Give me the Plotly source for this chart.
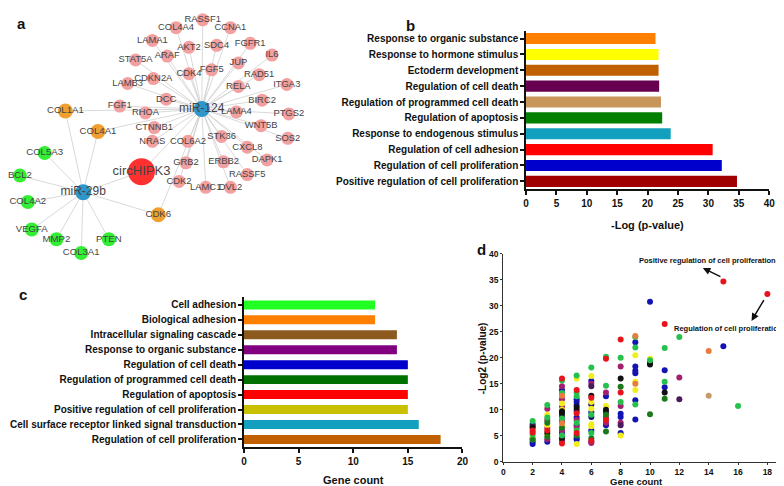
import plotly.graph_objects as go

W, H = 784, 486
FONT = "Liberation Sans, Arial, sans-serif"

# ---------------- Panel a: network ----------------
hub_names = ["miR-124", "miR-29b"]
hub_x = [193, 73]
hub_y = [98, 183]
circ_name = "circHIPK3"
circ_x, circ_y = 132, 162

pink_names = ["RASSF1", "COL4A4", "CCNA1", "LAMA1", "AKT2", "SDC4", "FGFR1", "IL6", "STAT5A", "ARAF",
              "JUP", "FGF5", "CDK4", "RAD51", "CDKN2A", "LAMB3", "RELA", "ITGA3", "DCC", "BIRC2",
              "FGF1", "RHOA", "LAMA4", "PTGS2", "CTNNB1", "WNT5B", "STK36", "SOS2", "NRAS", "COL6A2",
              "CXCL8", "DAPK1", "GRB2", "ERBB2", "RASSF5", "CDK2", "LAMC1", "DVL2"]
pink_x = [194, 167, 222, 143, 180, 208, 242, 264, 126, 158,
          230, 203, 180, 251, 144, 118, 230, 279, 157, 254,
          110, 136, 228, 281, 145, 253, 213, 280, 143, 179,
          239, 259, 177, 215, 239, 170, 197, 222]
pink_y = [7, 15, 15, 28, 35, 33, 31, 43, 48, 44,
          51, 58, 62, 63, 67, 72, 75, 73, 88, 89,
          95, 102, 101, 103, 117, 115, 126, 128, 131, 131,
          137, 150, 153, 152, 165, 172, 178, 178]
orange_names = ["COL1A1", "COL4A1", "CDK6"]
orange_x = [55, 88, 149]
orange_y = [100, 121, 206]
green_names = ["COL5A3", "BCL2", "COL4A2", "VEGFA", "MMP2", "COL3A1", "PTEN"]
green_x = [34, 9, 17, 21, 46, 71, 99]
green_y = [143, 166, 193, 221, 231, 245, 231]

# ---------------- Panel b ----------------
b_terms = ["Response to organic substance", "Response to hormone stimulus", "Ectoderm development",
           "Regulation of cell death", "Regulation of programmed cell death", "Regulation of apoptosis",
           "Response to endogenous stimulus", "Regulation of cell adhesion",
           "Regulation of cell proliferation", "Positive regulation of cell proliferation"]
b_values = [21.3, 21.8, 21.8, 21.9, 22.2, 22.4, 23.8, 30.7, 32.2, 34.7]
b_colors = ["#FF8000", "#FFFF00", "#C06000", "#66004F", "#C8955A", "#007F00",
            "#12A0BE", "#FF0000", "#0000CC", "#A00000"]

# ---------------- Panel c ----------------
c_terms = ["Cell adhesion", "Biological adhesion", "Intracellular signaling cascade",
           "Response to organic substance", "Regulation of cell death",
           "Regulation of programmed cell death", "Regulation of apoptosis",
           "Positive regulation of cell proliferation",
           "Cell surface receptor linked signal transduction", "Regulation of cell proliferation"]
c_values = [12, 12, 14, 14, 15, 15, 15, 15, 16, 18]
c_colors = ["#22FF22", "#FF8000", "#8C5A1E", "#800080", "#0000CC", "#007000",
            "#FF0000", "#C8C000", "#12A0BE", "#C06000"]

# ---------------- Panel d ----------------
red_x = [2, 2, 3, 4, 4, 5, 5, 5, 6, 6, 7, 7, 8, 8, 11, 15, 18]
red_y = [6.0, 5.6, 6.0, 16.0, 3.5, 13.8, 9.3, 5.5, 12.3, 4.0, 19.8, 8.0, 23.5, 13.3, 26.5, 34.7, 32.3]
green_px = [2, 2, 3, 3, 4, 4, 4, 4, 5, 5, 5, 5, 5, 6, 6, 6, 7, 7, 8, 8, 9, 9, 9, 10, 11, 11, 12, 16]
green_py = [7.8, 5.2, 10.9, 8.5, 15.6, 13.2, 8.3, 5.0, 16.6, 13.3, 12.6, 7.5, 6.0, 18.1, 9.0, 5.5,
            20.2, 14.6, 20.0, 11.5, 24.0, 22.0, 11.0, 19.5, 21.9, 15.4, 24.0, 10.7]
dkgreen_x = [2, 3, 3, 4, 5, 6, 7, 7, 8, 10, 11]
dkgreen_y = [4.2, 7.5, 4.8, 6.5, 5.0, 4.5, 9.0, 5.8, 14.4, 9.1, 12.1]
blue_x = [2, 2, 2, 3, 4, 4, 5, 5, 5, 5, 5, 5, 6, 6, 6, 6, 7, 7, 8, 8, 8, 9, 9, 9, 9, 9, 9, 10, 11, 11, 15]
blue_y = [7.2, 3.8, 3.4, 3.8, 13.8, 5.5, 12.0, 11.5, 8.5, 7.0, 4.5, 4.2, 15.5, 9.5, 6.0, 3.8,
          12.6, 7.0, 9.2, 8.6, 5.5, 23.0, 18.3, 17.5, 17.0, 11.8, 8.1, 30.8, 17.6, 14.3, 22.2]
navy_x = [5, 5, 6, 6]
navy_y = [10.8, 9.8, 11.0, 8.6]
yellow_x = [2, 3, 3, 3, 4, 4, 4, 5, 5, 6, 6, 6, 6, 6, 7, 8, 9, 9, 9, 10]
yellow_y = [4.8, 9.0, 7.0, 5.2, 11.2, 10.0, 7.0, 16.0, 3.4, 16.5, 11.5, 10.2, 7.2, 6.8, 10.7, 5.0,
            20.5, 15.4, 13.8, 19.8]
black_x = [2, 3, 4, 4, 4, 5, 6, 7, 8, 10, 10, 11]
black_y = [6.5, 5.5, 9.7, 9.3, 4.5, 10.3, 12.7, 10.0, 16.0, 19.0, 18.7, 13.3]
purple_x = [2, 3, 3, 3, 3, 4, 4, 4, 4, 4, 4, 5, 5, 6, 6, 7, 7, 7, 8, 8, 8, 12]
purple_y = [4.5, 10.2, 8.0, 6.5, 4.3, 14.5, 12.0, 10.5, 7.8, 6.0, 4.0, 8.0, 6.5, 15.0, 3.6,
            13.3, 8.5, 7.5, 18.3, 10.7, 7.5, 16.2]
dkpurple_x = [2, 4, 6, 7, 8, 12]
dkpurple_y = [6.8, 8.8, 14.5, 9.5, 7.0, 12.0]
orange_px = [4, 4, 9, 9, 14]
orange_py = [12.7, 7.4, 24.2, 15.0, 21.3]
tan_x = [14]
tan_y = [12.7]

d_series = [
    (blue_x, blue_y, "#1414B4"), (navy_x, navy_y, "#10106E"), (purple_x, purple_y, "#A3206E"),
    (dkpurple_x, dkpurple_y, "#4A1A5A"), (yellow_x, yellow_y, "#F2EE1E"), (black_x, black_y, "#111111"),
    (dkgreen_x, dkgreen_y, "#1C7A1C"), (green_px, green_py, "#26C04C"), (red_x, red_y, "#E8141C"),
    (orange_px, orange_py, "#E87C3C"), (tan_x, tan_y, "#C89A6A"),
]


def px(x):
    return x / W


def py(y):
    return 1 - y / H


fig = go.Figure()

# network edges
ex, ey = [], []
for nx_, ny_ in zip(pink_x, pink_y):
    ex += [hub_x[0], nx_, None]
    ey += [hub_y[0], ny_, None]
for nx_, ny_ in zip(green_x, green_y):
    ex += [hub_x[1], nx_, None]
    ey += [hub_y[1], ny_, None]
for nx_, ny_ in zip(orange_x + [circ_x], orange_y + [circ_y]):
    for hx, hy in zip(hub_x, hub_y):
        ex += [hx, nx_, None]
        ey += [hy, ny_, None]
fig.add_trace(go.Scatter(x=ex, y=ey, mode="lines", line=dict(color="#CFCFCF", width=0.8),
                         hoverinfo="skip", xaxis="x", yaxis="y", showlegend=False))

for names, xs, ys, col, sz, fsz in [
    (pink_names, pink_x, pink_y, "#F2A0A0", 13, 9.4),
    (orange_names, orange_x, orange_y, "#F0A030", 15, 9.6),
    (green_names, green_x, green_y, "#33EE33", 14, 9.6),
    (hub_names, hub_x, hub_y, "#2E96C8", 16, 12),
    ([circ_name], [circ_x], [circ_y], "#FF3030", 27, 13),
]:
    fig.add_trace(go.Scatter(x=xs, y=ys, mode="markers+text", text=names,
                             textposition="middle center",
                             textfont=dict(family=FONT, size=fsz, color="#454545"),
                             marker=dict(color=col, size=sz, line=dict(width=0)),
                             cliponaxis=False, xaxis="x", yaxis="y", showlegend=False))

# panel b
fig.add_trace(go.Bar(x=b_values, y=b_terms, orientation="h", marker=dict(color=b_colors, line=dict(width=0)),
                     width=0.7, xaxis="x2", yaxis="y2", showlegend=False))
# panel c
fig.add_trace(go.Bar(x=c_values, y=c_terms, orientation="h", marker=dict(color=c_colors, line=dict(width=0)),
                     width=0.6, xaxis="x3", yaxis="y3", showlegend=False))
# panel d
for xs, ys, col in d_series:
    fig.add_trace(go.Scatter(x=xs, y=ys, mode="markers", marker=dict(color=col, size=6, line=dict(width=0)),
                             xaxis="x4", yaxis="y4", showlegend=False, cliponaxis=False))

tick_font = dict(family=FONT, size=10, color="#111111", weight="bold")
axis_common = dict(showline=True, linecolor="#111111", linewidth=1.5, ticks="outside", ticklen=4,
                   tickwidth=1.5, tickcolor="#111111", showgrid=False, zeroline=False,
                   tickfont=tick_font, fixedrange=True)
small_axis = {**axis_common, "tickfont": dict(family=FONT, size=8.5, color="#111111", weight="bold"),
              "ticklen": 2, "linewidth": 1.2, "tickwidth": 1.2, "linecolor": "#333333",
              "tickcolor": "#333333"}

fig.update_layout(
    width=W, height=H, margin=dict(l=0, r=0, t=0, b=0),
    paper_bgcolor="white", plot_bgcolor="rgba(0,0,0,0)",
    xaxis=dict(domain=[0, px(300)], range=[0, 300], visible=False),
    yaxis=dict(domain=[py(270), 1], range=[270, 0], visible=False),
    xaxis2=dict(domain=[px(521), px(767)], range=[0, 40], dtick=5, anchor="y2", **axis_common),
    yaxis2=dict(domain=[py(180), py(18)], range=[9.5, -0.5], anchor="x2", type="category",
                **axis_common),
    xaxis3=dict(domain=[px(235.7), px(456.7)], range=[0, 20], dtick=5, anchor="y3", **axis_common),
    yaxis3=dict(domain=[py(443), py(290.4)], range=[9.5, -0.5], anchor="x3", type="category",
                **axis_common),
    xaxis4=dict(domain=[px(498), px(780)], range=[0, 19], tickvals=list(range(0, 19, 2)), anchor="y4",
                **small_axis),
    yaxis4=dict(domain=[py(458), py(246)], range=[0, 40], dtick=5, anchor="x4", **small_axis),
)

ann = []
bold = lambda s: dict(family=FONT, size=s, color="#111111", weight="bold")
# panel letters
for t, x, y in [("a", 11, 11), ("b", 404, 13), ("c", 12, 287), ("d", 476, 241)]:
    ann.append(dict(text=t, x=px(x), y=py(y), xref="paper", yref="paper", showarrow=False,
                    font=bold(15), xanchor="center", yanchor="middle"))
# axis titles
ann.append(dict(text="-Log (p-value)", x=px(644), y=py(216), xref="paper", yref="paper", showarrow=False,
                font=bold(11), xanchor="center", yanchor="middle"))
ann.append(dict(text="Gene count", x=px(346), y=py(477), xref="paper", yref="paper", showarrow=False,
                font=bold(11), xanchor="center", yanchor="middle"))
ann.append(dict(text="Gene count", x=px(633), y=py(478.5), xref="paper", yref="paper", showarrow=False,
                font=bold(9.5), xanchor="center", yanchor="middle", borderpad=0))
ann.append(dict(text="-Log2 (p-value)", x=px(477), y=py(353), xref="paper", yref="paper", showarrow=False,
                font=bold(10), xanchor="center", yanchor="middle", textangle=-90))
# panel d callouts
ann.append(dict(text="Positive regulation of cell proliferation", x=13.94, y=38.8, xref="x4", yref="y4",
                showarrow=False, font=bold(7.5), xanchor="center", yanchor="middle"))
ann.append(dict(text="", x=13.6, y=37.3, ax=14.9, ay=35.5, xref="x4", yref="y4", axref="x4", ayref="y4",
                showarrow=True, arrowhead=2, arrowsize=1, arrowwidth=1.5, arrowcolor="#111111"))
ann.append(dict(text="Regulation of cell proliferation", x=px(783), y=25.7, xref="paper", yref="y4",
                showarrow=False, font=bold(7.5), xanchor="right", yanchor="middle"))
ann.append(dict(text="", x=16.92, y=27.1, ax=17.82, ay=31.4, xref="x4", yref="y4", axref="x4", ayref="y4",
                showarrow=True, arrowhead=2, arrowsize=1, arrowwidth=1.5, arrowcolor="#111111"))
fig.update_layout(annotations=ann)

fig.write_html("out.html")
